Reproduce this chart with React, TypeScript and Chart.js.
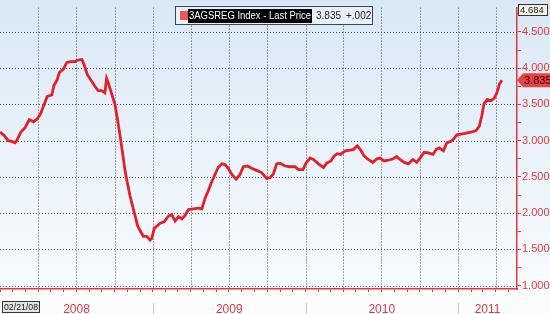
import React, { useEffect, useRef } from 'react';
import { Chart, registerables } from 'chart.js';

Chart.register(...registerables);

// ---- data ----
const dates: string[] = [
  '2008-01-01','2008-01-11','2008-01-21','2008-01-29','2008-02-06','2008-02-10','2008-02-20','2008-03-01',
  '2008-03-11','2008-03-21','2008-03-30','2008-04-07','2008-04-15','2008-04-23','2008-05-04','2008-05-09',
  '2008-05-17','2008-05-22','2008-06-01','2008-06-09','2008-06-18','2008-06-29','2008-07-04','2008-07-15',
  '2008-07-20','2008-07-28','2008-08-05','2008-08-15','2008-08-23','2008-08-31','2008-09-08','2008-09-12',
  '2008-09-16','2008-09-24','2008-10-02','2008-10-08','2008-10-14','2008-10-21','2008-10-26','2008-11-01',
  '2008-11-07','2008-11-14','2008-11-19','2008-11-25','2008-12-03','2008-12-09','2008-12-17','2008-12-25',
  '2008-12-29','2009-01-04','2009-01-14','2009-01-18','2009-01-28','2009-02-07','2009-02-15','2009-02-23',
  '2009-03-03','2009-03-11','2009-03-19','2009-03-27','2009-04-08','2009-04-20','2009-04-28','2009-05-06',
  '2009-05-14','2009-05-22','2009-05-30','2009-06-06','2009-06-15','2009-06-22','2009-06-30','2009-07-09',
  '2009-07-19','2009-07-28','2009-08-05','2009-08-15','2009-08-25','2009-09-06','2009-09-18','2009-09-30',
  '2009-10-08','2009-10-16','2009-10-24','2009-11-01','2009-11-13','2009-11-25','2009-12-07','2009-12-15',
  '2009-12-26','2010-01-02','2010-01-12','2010-01-20','2010-02-01','2010-02-13','2010-02-21','2010-03-03',
  '2010-03-09','2010-03-18','2010-03-26','2010-04-06','2010-04-18','2010-04-26','2010-05-05','2010-05-13',
  '2010-05-21','2010-05-31','2010-06-11','2010-06-21','2010-06-28','2010-07-08','2010-07-18','2010-07-30',
  '2010-08-07','2010-08-15','2010-08-25','2010-09-04','2010-09-15','2010-09-24','2010-10-02','2010-10-12',
  '2010-10-22','2010-11-02','2010-11-10','2010-11-17','2010-11-27','2010-12-05','2010-12-15','2010-12-21',
  '2010-12-29','2011-01-08','2011-01-18','2011-01-26','2011-02-03','2011-02-13','2011-02-21','2011-02-27',
  '2011-03-04','2011-03-12','2011-03-20','2011-03-28','2011-04-04','2011-04-10','2011-04-16',
];

const prices: number[] = [
  3.12, 3.07, 3.00, 2.99, 2.97, 3.00, 3.12, 3.18,
  3.29, 3.26, 3.30, 3.37, 3.49, 3.61, 3.63, 3.76,
  3.84, 3.94, 3.99, 4.08, 4.09, 4.09, 4.11, 4.12,
  4.05, 3.91, 3.84, 3.75, 3.69, 3.69, 3.66, 3.86,
  3.80, 3.65, 3.50, 3.30, 3.08, 2.80, 2.59, 2.41,
  2.24, 2.08, 1.97, 1.83, 1.74, 1.68, 1.68, 1.63,
  1.65, 1.79, 1.84, 1.86, 1.88, 1.96, 1.98, 1.89,
  1.95, 1.92, 1.97, 2.05, 2.06, 2.07, 2.06, 2.21,
  2.32, 2.44, 2.54, 2.63, 2.68, 2.67, 2.62, 2.53,
  2.47, 2.53, 2.64, 2.65, 2.62, 2.59, 2.56, 2.48,
  2.49, 2.54, 2.68, 2.69, 2.65, 2.64, 2.64, 2.60,
  2.60, 2.69, 2.76, 2.74, 2.68, 2.63, 2.69, 2.72,
  2.78, 2.82, 2.81, 2.86, 2.87, 2.88, 2.93, 2.87,
  2.79, 2.74, 2.70, 2.75, 2.76, 2.72, 2.73, 2.75,
  2.78, 2.74, 2.70, 2.68, 2.74, 2.70, 2.76, 2.84,
  2.83, 2.81, 2.88, 2.90, 2.86, 2.97, 2.99, 3.02,
  3.08, 3.09, 3.10, 3.11, 3.12, 3.14, 3.20, 3.35,
  3.51, 3.57, 3.55, 3.58, 3.66, 3.78, 3.835,
];

const yearLabels: string[] = ['2008', '2009', '2010', '2011'];
const yearStarts: string[] = ['2008-01-01', '2009-01-01', '2010-01-01', '2011-01-01'];
const axisStart = '2008-01-01';
const axisEnd = '2011-05-22';
const yMin = 0.953;
const yMax = 4.836;
const yTickValues: number[] = [1.0, 1.25, 1.5, 1.75, 2.0, 2.25, 2.5, 2.75, 3.0, 3.25, 3.5, 3.75, 4.0, 4.25, 4.5, 4.75];
const legendName = '3AGSREG Index - Last Price';
const lastPriceText = '3.835';
const lastPriceValue = 3.835;
const changeText = '+.002';
const highText = '4.684';
const startText = '02/21/08';

const RED = '#e2373c';
const LINE_RED = '#e3202a';
const GRID = '#4d4d4d';
const FONT = '"Liberation Sans", Arial, sans-serif';

const ORIGIN = Date.UTC(2008, 0, 1);
const toDay = (s: string) => {
  const [y, m, d] = s.split('-').map(Number);
  return (Date.UTC(y, m - 1, d) - ORIGIN) / 86400000;
};

// month boundaries for the x tick marks
const monthTicks: { value: number; quarter: boolean }[] = [];
for (let y = 2008; y <= 2011; y++) {
  for (let m = 0; m < 12; m++) {
    const v = (Date.UTC(y, m, 1) - ORIGIN) / 86400000;
    if (v > toDay(axisEnd)) break;
    monthTicks.push({ value: v, quarter: m % 3 === 0 });
  }
}

const isMajorY = (v: number) => Math.abs(v * 2 - Math.round(v * 2)) < 1e-6;

const decorPlugin = {
  id: 'decor',
  beforeDraw(chart: any) {
    const { ctx, chartArea } = chart;
    const W = chart.width;
    const H = chart.height;
    ctx.save();
    const g = ctx.createLinearGradient(0, 0, 0, chartArea.bottom);
    g.addColorStop(0, '#d9e8f6');
    g.addColorStop(1, '#f8fbfe');
    ctx.fillStyle = g;
    ctx.fillRect(0, 0, W, chartArea.bottom);
    ctx.fillStyle = '#fbfcfe';
    ctx.fillRect(0, chartArea.bottom, W, H - chartArea.bottom);
    ctx.restore();
  },
  beforeDatasetsDraw(chart: any) {
    const { ctx, chartArea, scales } = chart;
    const xs = scales.x;
    const ys = scales.y;
    ctx.save();
    ctx.strokeStyle = GRID;
    ctx.lineWidth = 1;
    ctx.setLineDash([1, 2]);
    monthTicks.forEach((t) => {
      if (!t.quarter || t.value <= 0) return;
      const x = Math.round(xs.getPixelForValue(t.value)) + 0.5;
      ctx.beginPath();
      ctx.moveTo(x, chartArea.top);
      ctx.lineTo(x, chartArea.bottom);
      ctx.stroke();
    });
    yTickValues.forEach((v) => {
      if (!isMajorY(v)) return;
      const y = Math.round(ys.getPixelForValue(v)) + 0.5;
      ctx.beginPath();
      ctx.moveTo(chartArea.left, y);
      ctx.lineTo(chartArea.right, y);
      ctx.stroke();
    });
    ctx.restore();
  },
  afterDraw(chart: any) {
    const { ctx, chartArea, scales } = chart;
    const xs = scales.x;
    const ys = scales.y;
    const H = chart.height;
    ctx.save();

    // year separators and labels
    const end = toDay(axisEnd);
    ctx.font = `12px ${FONT}`;
    ctx.textAlign = 'center';
    ctx.textBaseline = 'middle';
    yearLabels.forEach((lab, i) => {
      const s = toDay(yearStarts[i]);
      const e = i + 1 < yearStarts.length ? toDay(yearStarts[i + 1]) : end;
      const x0 = xs.getPixelForValue(s);
      const x1 = xs.getPixelForValue(e);
      if (i > 0) {
        ctx.strokeStyle = '#c9c9c9';
        ctx.lineWidth = 1;
        ctx.beginPath();
        ctx.moveTo(Math.round(x0) + 0.5, chartArea.bottom + 14);
        ctx.lineTo(Math.round(x0) + 0.5, H);
        ctx.stroke();
      }
      ctx.fillStyle = RED;
      ctx.fillText(lab, (x0 + x1) / 2, chartArea.bottom + 20.5);
    });

    // start date box
    ctx.fillStyle = '#e4e4e4';
    ctx.fillRect(2, 301, 38, 12);
    ctx.strokeStyle = '#333';
    ctx.lineWidth = 1;
    ctx.strokeRect(2.5, 301.5, 37, 11);
    ctx.fillStyle = '#222';
    ctx.font = `9px ${FONT}`;
    ctx.textAlign = 'left';
    ctx.fillText(startText, 4, 307.5, 34);

    // legend box
    ctx.fillStyle = '#e8f1f9';
    ctx.fillRect(175, 6, 198, 19);
    ctx.strokeStyle = '#444';
    ctx.strokeRect(175.5, 6.5, 197, 18);
    ctx.fillStyle = '#f05656';
    ctx.fillRect(180, 11, 8, 9);
    ctx.fillStyle = '#000';
    ctx.fillRect(188, 9, 124, 14);
    ctx.font = `10.5px ${FONT}`;
    ctx.textBaseline = 'middle';
    ctx.fillStyle = '#fff';
    ctx.fillText(legendName, 189, 16, 122);
    ctx.fillStyle = '#222';
    ctx.font = `10px ${FONT}`;
    ctx.fillText(lastPriceText, 316, 16);
    ctx.fillText(changeText, 346, 16);

    // high value label at top of right axis
    ctx.fillStyle = '#f2f2e2';
    ctx.fillRect(518, 4, 30, 12);
    ctx.strokeStyle = '#333';
    ctx.strokeRect(518.5, 4.5, 29, 11);
    ctx.fillStyle = '#222';
    ctx.font = `9.5px ${FONT}`;
    ctx.fillText(highText, 520, 10.5, 27);

    // last price tag
    const py = ys.getPixelForValue(lastPriceValue);
    const ax = chartArea.right;
    ctx.fillStyle = '#e84343';
    ctx.beginPath();
    ctx.moveTo(ax, py);
    ctx.lineTo(ax + 6, py - 7);
    ctx.lineTo(chart.width, py - 7);
    ctx.lineTo(chart.width, py + 7);
    ctx.lineTo(ax + 6, py + 7);
    ctx.closePath();
    ctx.fill();
    ctx.fillStyle = '#2a0606';
    ctx.font = `11px ${FONT}`;
    ctx.fillText(lastPriceText, ax + 7, py + 0.5);

    ctx.restore();
  },
};

export default function App() {
  const ref = useRef<HTMLCanvasElement | null>(null);

  useEffect(() => {
    if (!ref.current) return;
    const data = dates.map((d, i) => ({ x: toDay(d), y: prices[i] }));
    const chart = new Chart(ref.current, {
      type: 'line',
      data: {
        datasets: [
          {
            label: legendName,
            data,
            borderColor: LINE_RED,
            borderWidth: 2.8,
            pointRadius: 0,
            tension: 0,
            fill: false,
          },
        ],
      },
      options: {
        animation: false,
        responsive: false,
        maintainAspectRatio: false,
        layout: { padding: 0 },
        plugins: { legend: { display: false }, tooltip: { enabled: false } },
        scales: {
          x: {
            type: 'linear',
            position: 'bottom',
            min: toDay(axisStart),
            max: toDay(axisEnd),
            afterBuildTicks: (s: any) => {
              s.ticks = monthTicks.map((t) => ({ value: t.value }));
            },
            afterFit: (s: any) => {
              s.height = 25;
            },
            ticks: { display: false, autoSkip: false },
            grid: {
              drawOnChartArea: false,
              color: RED,
              lineWidth: 1,
              tickColor: RED,
              tickLength: 3,
              tickWidth: 1,
            },
            border: { display: true, color: RED, width: 1.5 },
          },
          y: {
            type: 'linear',
            position: 'right',
            min: yMin,
            max: yMax,
            afterBuildTicks: (s: any) => {
              s.ticks = yTickValues.map((v) => ({ value: v }));
            },
            afterFit: (s: any) => {
              s.width = 33;
            },
            ticks: {
              autoSkip: false,
              padding: 1,
              color: RED,
              font: { family: FONT, size: 11 },
              callback: (v: any) => (isMajorY(Number(v)) ? Number(v).toFixed(3) : ''),
            },
            grid: {
              drawOnChartArea: false,
              color: RED,
              lineWidth: 1,
              tickColor: RED,
              tickLength: 4,
              tickWidth: 1,
            },
            border: { display: true, color: RED, width: 1.5 },
          },
        },
      },
      plugins: [decorPlugin],
    });
    return () => chart.destroy();
  }, []);

  return (
    <div style={{ position: 'fixed', left: 0, top: 0, width: 550, height: 314 }}>
      <canvas ref={ref} width={550} height={314} style={{ width: 550, height: 314, display: 'block' }} />
    </div>
  );
}
